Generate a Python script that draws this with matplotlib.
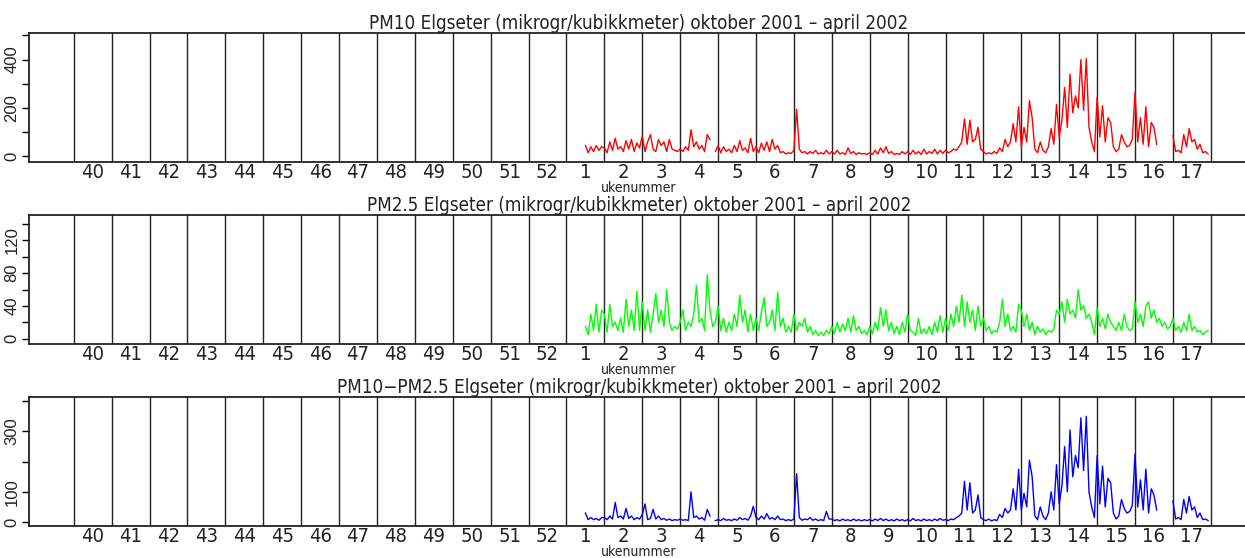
import matplotlib
matplotlib.use("Agg")
import matplotlib.pyplot as plt
import numpy as np

nan = np.nan

# week labels: 2001 weeks 40-52, then 2002 weeks 1-17
week_labels = [str(w) for w in range(40, 53)] + [str(w) for w in range(1, 18)]

# half-day values, from mid week 1 (2002) to end of week 17
pm10 = [
    45, 15, 40, 20, 45, 25, 40,                                   # w1 (2nd half)
    35, 15, 60, 25, 75, 30, 40, 20, 65, 30, 70, 20, 55, 35,       # w2
    85, 20, 60, 90, 30, 20, 70, 45, 60, 20, 70, 30, 25, 20,       # w3
    30, 20, 40, 25, 110, 40, 60, 30, 45, 20, 90, 70, nan, 20,     # w4
    45, 15, 40, 20, 30, 15, 45, 20, 65, 25, 35, 15, 75, 20,       # w5
    40, 15, 55, 25, 60, 20, 70, 30, 45, 15, 20, 10, 15, 12,       # w6
    25, 195, 30, 15, 20, 10, 20, 12, 25, 10, 15, 10, 25, 10,      # w7
    20, 10, 25, 10, 15, 8, 35, 12, 20, 8, 15, 10, 12, 8,          # w8
    15, 8, 25, 10, 35, 15, 40, 12, 20, 8, 12, 8, 20, 10,          # w9
    20, 8, 25, 10, 20, 8, 30, 10, 20, 12, 30, 10, 25, 12,         # w10
    25, 15, 20, 30, 25, 40, 60, 155, 50, 150, 60, 70, 120, 30,    # w11
    20, 10, 15, 10, 20, 12, 35, 20, 70, 40, 60, 135, 60, 205,     # w12
    40, 120, 60, 230, 160, 30, 15, 60, 25, 15, 40, 115, 50, 215,  # w13
    80, 150, 285, 120, 340, 180, 250, 200, 400, 190, 405, 120, 60, 20,  # w14
    245, 80, 210, 60, 160, 140, 40, 20, 30, 90, 60, 40, 45, 70,   # w15
    265, 60, 160, 50, 205, 40, 140, 120, 50, nan, nan, nan, nan, nan,  # w16
    85, 20, 25, 15, 90, 40, 115, 60, 70, 30, 50, 15, 20, 10,      # w17
]

pm25 = [
    15, 5, 30, 10, 42, 8, 35,
    30, 8, 42, 15, 20, 10, 25, 8, 48, 15, 35, 10, 58, 10,
    45, 10, 35, 8, 30, 55, 20, 35, 15, 60, 20, 10, 15, 12,
    20, 35, 10, 20, 15, 30, 65, 20, 25, 10, 78, 35, 15, 20,
    40, 10, 25, 8, 20, 10, 30, 15, 53, 20, 35, 8, 30, 10,
    25, 10, 33, 50, 15, 20, 35, 10, 57, 15, 25, 8, 15, 8,
    30, 10, 20, 15, 25, 8, 15, 5, 10, 4, 8, 4, 10, 6,
    15, 6, 20, 8, 18, 10, 25, 8, 28, 10, 15, 6, 10, 5,
    15, 6, 20, 10, 38, 15, 35, 10, 20, 6, 15, 5, 20, 8,
    30, 10, 8, 4, 25, 6, 12, 6, 15, 5, 20, 8, 28, 8,
    25, 10, 30, 15, 40, 20, 53, 15, 45, 20, 35, 10, 40, 15,
    25, 10, 15, 6, 10, 8, 20, 48, 15, 30, 10, 15, 8, 42,
    35, 15, 30, 10, 20, 5, 15, 8, 12, 5, 10, 8, 12, 35,
    30, 45, 20, 48, 30, 35, 25, 60, 35, 40, 25, 30, 20, 5,
    38, 15, 25, 12, 30, 20, 15, 10, 20, 10, 30, 15, 10, 12,
    45, 20, 30, 15, 40, 45, 25, 35, 20, 25, 15, 20, 12, 15,
    25, 10, 15, 8, 20, 10, 30, 10, 15, 8, 10, 5, 8, 10,
]

pm_coarse = [
    30, 8, 15, 8, 12, 6, 15,
    15, 8, 20, 10, 65, 15, 20, 10, 45, 12, 20, 8, 15, 10,
    25, 60, 8, 12, 42, 10, 20, 8, 12, 6, 10, 5, 8, 6,
    10, 6, 8, 5, 100, 15, 20, 10, 15, 6, 42, 20, nan, 5,
    8, 5, 12, 6, 8, 5, 10, 6, 15, 8, 12, 6, 20, 52,
    15, 8, 20, 10, 28, 10, 15, 8, 20, 8, 10, 5, 8, 5,
    10, 160, 15, 6, 10, 8, 15, 6, 10, 5, 8, 5, 35, 10,
    10, 5, 8, 4, 10, 5, 8, 4, 10, 5, 8, 4, 8, 5,
    8, 4, 10, 5, 12, 5, 10, 4, 8, 4, 10, 5, 8, 4,
    8, 4, 12, 5, 8, 4, 10, 5, 8, 4, 10, 5, 12, 6,
    8, 5, 10, 8, 15, 20, 30, 135, 40, 130, 30, 40, 90, 15,
    8, 5, 10, 4, 8, 5, 25, 15, 45, 30, 40, 110, 40, 175,
    40, 95, 50, 205, 150, 20, 8, 50, 20, 8, 30, 100, 40, 190,
    60, 120, 250, 100, 305, 150, 220, 180, 345, 170, 350, 100, 50, 15,
    220, 60, 185, 50, 145, 130, 30, 10, 20, 75, 45, 30, 35, 55,
    225, 50, 140, 40, 175, 30, 110, 90, 40, nan, nan, nan, nan, nan,
    70, 10, 15, 8, 75, 30, 85, 40, 50, 15, 30, 8, 10, 5,
]

titles = [
    "PM10 Elgseter (mikrogr/kubikkmeter) oktober 2001 \u2013 april 2002",
    "PM2.5 Elgseter (mikrogr/kubikkmeter) oktober 2001 \u2013 april 2002",
    "PM10\u2212PM2.5 Elgseter (mikrogr/kubikkmeter) oktober 2001 \u2013 april 2002",
]

plt.rcParams["font.family"] = ["DejaVu Sans"]
plt.rcParams["font.stretch"] = "condensed"

# time axis in weeks (0 = start of week 40); samples every 12 hours
t = 13.5 + np.arange(len(pm10)) / 14.0

panels = [
    (pm10, "#ff0000", (-22, 510), np.arange(0, 501, 100), [0, 200, 400]),
    (pm25, "#00ff00", (-6.5, 151), np.arange(0, 141, 20), [0, 40, 80, 120]),
    (pm_coarse, "#0000ff", (-13, 413), np.arange(0, 401, 100), [0, 100, 300]),
]

fig = plt.figure(figsize=(12.45, 5.58), dpi=100)
W, H = 1245.0, 558.0
boxes = [(33, 161.7), (215, 344), (397.3, 526)]

for (vals, color, ylim, yticks, ylabs), (top, bot), title in zip(panels, boxes, titles):
    ax = fig.add_axes([29 / W, 1 - bot / H, 1.003 - 29 / W, (bot - top) / H])
    for b in range(0, 31):
        ax.axvline(b, color="#222222", lw=1.0, zorder=1)
    ax.plot(t, vals, color=color, lw=1.0, zorder=2)
    ax.set_xlim(-1.18, 31)
    ax.set_ylim(*ylim)

    ax.set_xticks(np.arange(30) + 0.5)
    ax.set_xticklabels(week_labels, fontsize=14.5, color="#222222")
    ax.tick_params(axis="x", length=0, pad=1)

    ax.set_yticks(yticks)
    ax.set_yticklabels([str(v) if v in ylabs else "" for v in yticks],
                       rotation=90, va="center", fontsize=12,
                       family=["Liberation Sans", "DejaVu Sans"],
                       fontstretch="normal", color="#222222")
    ax.tick_params(axis="y", length=5, width=1, pad=2)

    for s in ["left", "top", "bottom"]:
        ax.spines[s].set_linewidth(1.3)
        ax.spines[s].set_color("#222222")
    ax.spines["right"].set_visible(False)

    ax.set_title(title, fontsize=13.5, pad=0, color="#222222")
    ax.text(0.5, -0.205, "ukenummer", transform=ax.transAxes, ha="center",
            va="center", fontsize=10, color="#222222")

fig.savefig("out.png", dpi=100)
